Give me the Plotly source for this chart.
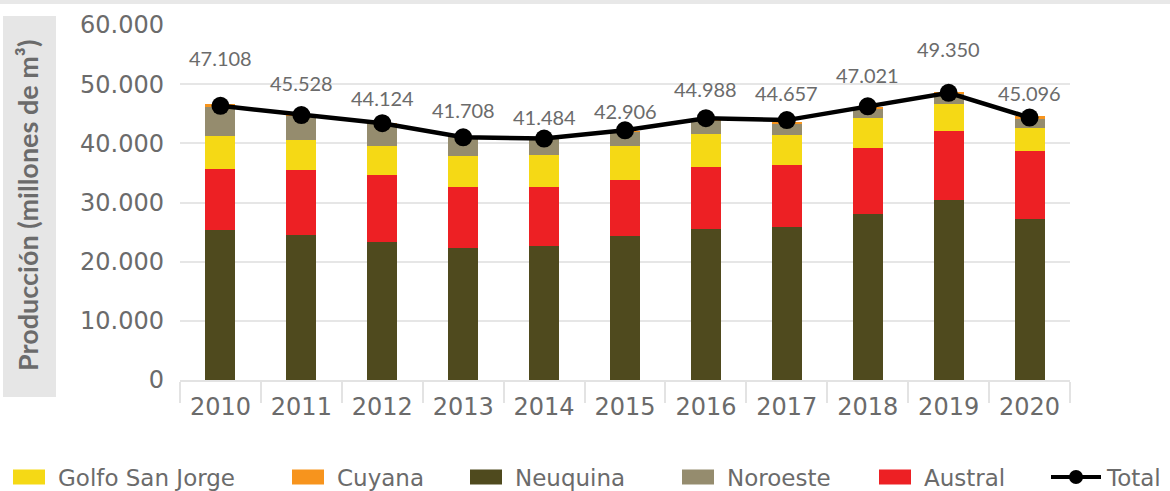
import plotly.graph_objects as go

# Producción de gas natural por cuenca (millones de m³)
years = ["2010", "2011", "2012", "2013", "2014", "2015", "2016", "2017", "2018", "2019", "2020"]
neuquina = [25350, 24500, 23320, 22360, 22700, 24390, 25520, 25860, 28050, 30420, 27210]
austral = [10310, 10990, 11330, 10260, 9920, 9410, 10480, 10480, 11160, 11660, 11490]
golfo_san_jorge = [5580, 5070, 4950, 5240, 5410, 5800, 5570, 5070, 5070, 4560, 3940]
noroeste = [4950, 4140, 3700, 3240, 2870, 2360, 2370, 2020, 1640, 1810, 1420]
cuyana = [450, 150, 100, 100, 100, 100, 100, 100, 150, 250, 500]
total = [47108, 45528, 44124, 41708, 41484, 42906, 44988, 44657, 47021, 49350, 45096]
total_labels = ["47.108", "45.528", "44.124", "41.708", "41.484", "42.906",
                "44.988", "44.657", "47.021", "49.350", "45.096"]

COLORS = {
    "Golfo San Jorge": "#f5d915",
    "Cuyana": "#f7941d",
    "Neuquina": "#4f4a1e",
    "Noroeste": "#958c6e",
    "Austral": "#ed2024",
}
FONT = "Lato, 'Open Sans', sans-serif"
WIDE = "'DejaVu Sans', sans-serif"
TEXT = "#6b6b6b"

W, H = 1170, 491
L, R, T, B = 180, 100, 25, 111
PW, PH = W - L - R, H - T - B


def px(x):
    return (x - L) / PW


def py(y):
    return (H - B - y) / PH


fig = go.Figure()

# stacked bars, bottom to top
for name, vals in [("Neuquina", neuquina), ("Austral", austral),
                   ("Golfo San Jorge", golfo_san_jorge), ("Noroeste", noroeste),
                   ("Cuyana", cuyana)]:
    fig.add_trace(go.Bar(x=years, y=vals, name=name, marker_color=COLORS[name],
                         marker_line_width=0, showlegend=False))

# total line on its own hidden scale
fig.add_trace(go.Scatter(x=years, y=total, name="Total", mode="lines+markers",
                         line=dict(color="black", width=4.5),
                         marker=dict(color="black", size=18),
                         yaxis="y2", showlegend=False))

# value labels above the total markers (x given as category index)
label_shift = [48, 32, 25, 27, 22, 19, 29, 27, 31, 44, 25]
annotations = []
for i, (v, lab, s) in enumerate(zip(total, total_labels, label_shift)):
    annotations.append(dict(x=i, xref="x", y=v, yref="y2", text=lab, showarrow=False,
                            yshift=s, yanchor="middle",
                            font=dict(family=FONT, size=20, color=TEXT)))

# axis title on a grey block
shapes = [
    dict(type="rect", xref="paper", yref="paper", x0=px(0), x1=px(W), y0=py(0), y1=py(4),
         fillcolor="#e8e8e8", line_width=0, layer="below"),
    dict(type="rect", xref="paper", yref="paper", x0=px(3), x1=px(56), y0=py(16), y1=py(397),
         fillcolor="#e6e6e6", line_width=0, layer="below"),
]
annotations.append(dict(xref="paper", yref="paper", x=px(27), y=py(206),
                        text="<b>Producción (millones de m³)</b>", textangle=-90,
                        showarrow=False, xanchor="center", yanchor="middle",
                        font=dict(family=FONT, size=27, color=TEXT)))

# legend
legend_items = [("Golfo San Jorge", 13), ("Cuyana", 292), ("Neuquina", 470),
                ("Noroeste", 682), ("Austral", 879)]
ly = 477
for name, x0 in legend_items:
    shapes.append(dict(type="rect", xref="paper", yref="paper",
                       x0=px(x0), x1=px(x0 + 32), y0=py(ly - 7.5), y1=py(ly + 7.5),
                       fillcolor=COLORS[name], line_width=0))
    annotations.append(dict(xref="paper", yref="paper", x=px(x0 + 43), y=py(ly + 1),
                            text=name, showarrow=False, xanchor="left", yanchor="middle",
                            font=dict(family=WIDE, size=23, color=TEXT)))
shapes.append(dict(type="line", xref="paper", yref="paper", x0=px(1051), x1=px(1101),
                   y0=py(ly), y1=py(ly), line=dict(color="black", width=4)))
shapes.append(dict(type="circle", xref="paper", yref="paper", x0=px(1069), x1=px(1083),
                   y0=py(ly - 7), y1=py(ly + 7), fillcolor="black", line_width=0))
annotations.append(dict(xref="paper", yref="paper", x=px(1104), y=py(ly + 1),
                        text="Total", showarrow=False, xanchor="left", yanchor="middle",
                        font=dict(family=WIDE, size=23, color=TEXT)))

fig.update_layout(
    width=W, height=H, autosize=False,
    margin=dict(l=L, r=R, t=T, b=B, pad=0),
    barmode="stack", bargap=0.63,
    plot_bgcolor="white", paper_bgcolor="white",
    separators=",.",
    showlegend=False,
    shapes=shapes, annotations=annotations,
    xaxis=dict(type="category", range=[-0.5, len(years) - 0.5], showgrid=False,
               showline=True, linecolor="#e3e3e3",
               linewidth=2, ticks="outside", tickson="boundaries", ticklen=21,
               tickcolor="#e3e3e3", tickwidth=2, tickangle=0, ticklabelstandoff=4,
               tickfont=dict(family=WIDE, size=24, color=TEXT)),
    yaxis=dict(range=[0, 60000], dtick=10000, tickformat=",d", showgrid=True,
               gridcolor="#e6e6e6", gridwidth=2, zeroline=False, showline=False,
               ticklabelstandoff=15,
               tickfont=dict(family=WIDE, size=24, color=TEXT)),
    yaxis2=dict(range=[0, 61000], overlaying="y", side="right", visible=False),
)

fig.write_html("out.html")
